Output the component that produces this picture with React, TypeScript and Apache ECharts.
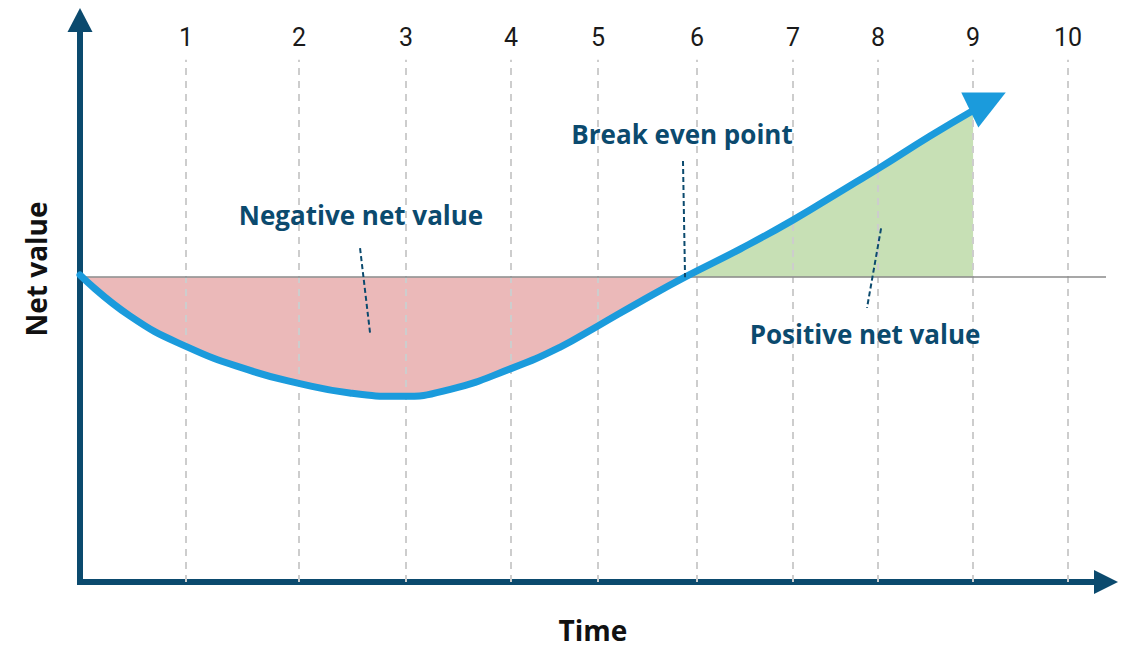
import React, { useEffect, useRef } from "react";
import * as echarts from "echarts";

// ---- data ----
const tickLabels = ["1", "2", "3", "4", "5", "6", "7", "8", "9", "10"];
const tickPositions = [1.085, 2.241, 3.336, 4.411, 5.301, 6.315, 7.297, 8.167, 9.139, 10.112];

// net value curve (time, value)
const curveTime = [0, 0.51, 1.09, 1.74, 2.25, 2.76, 3.28, 3.79, 4.41, 4.91, 5.3, 5.73, 6.19, 6.76, 7.3, 7.88, 8.17, 8.7, 9.14];
const curveValue = [0.07, -1.27, -2.28, -3.06, -3.49, -3.8, -3.91, -3.68, -3.0, -2.3, -1.6, -0.81, 0, 0.93, 1.88, 3.0, 3.56, 4.63, 5.47];
const breakEvenTime = 6.19;

const arrowHead = [9.29, 5.77];
const annotationNames = ["Negative net value", "Break even point", "Positive net value"];
const annotationPos = [
  [2.876, 2.05],
  [6.161, 4.69],
  [8.034, -1.86],
];
const leaderFrom = [
  [2.866, 0.95],
  [6.171, 3.81],
  [8.198, 1.6],
];
const leaderTo = [
  [2.968, -1.82],
  [6.192, 0],
  [8.054, -1.01],
];

const X_MIN = 0;
const X_MAX = 10.5;
const Y_MIN = -10;
const Y_MAX = 8.436;
const GRID_TOP_VALUE = 7.13;

const DARK = "#0b4a6e";
const BLUE = "#1b9bdc";

export default function App() {
  const ref = useRef<HTMLDivElement>(null);

  useEffect(() => {
    if (!ref.current) return;
    const chart = echarts.init(ref.current, undefined, { renderer: "svg" });

    const curve = curveTime.map((t, i) => [t, curveValue[i]]);
    const neg = curve.filter((p) => p[0] <= breakEvenTime);
    const pos = curve.filter((p) => p[0] >= breakEvenTime);

    const gridLines = tickPositions.map((x, i) => [
      { coord: [x, Y_MIN], name: tickLabels[i] },
      { coord: [x, GRID_TOP_VALUE] },
    ]);

    const axisCommon = {
      axisTick: { show: false },
      axisLabel: { show: false },
      splitLine: { show: false },
    };

    chart.setOption({
      animation: false,
      grid: { left: 80, right: 21, top: 20, bottom: 63, containLabel: false },
      xAxis: {
        type: "value",
        min: X_MIN,
        max: X_MAX,
        name: "Time",
        nameLocation: "middle",
        nameGap: 34,
        nameTextStyle: { fontFamily: "Open Sans", fontWeight: "bold", fontSize: 28, color: "#111" },
        axisLine: {
          show: true,
          onZero: false,
          symbol: ["none", "triangle"],
          symbolSize: [24, 24],
          lineStyle: { color: DARK, width: 6, cap: "square" },
        },
        ...axisCommon,
      },
      yAxis: {
        type: "value",
        min: Y_MIN,
        max: Y_MAX,
        name: "Net value",
        nameLocation: "middle",
        nameRotate: 90,
        nameGap: 30,
        nameTextStyle: {
          fontFamily: "Open Sans",
          fontWeight: "bold",
          fontSize: 28,
          color: "#111",
          padding: [0, 0, 0, 64],
        },
        axisLine: {
          show: true,
          onZero: false,
          symbol: ["none", "triangle"],
          symbolSize: [25, 24],
          lineStyle: { color: DARK, width: 6, cap: "square" },
        },
        ...axisCommon,
      },
      series: [
        {
          type: "line",
          name: "negative",
          data: neg,
          smooth: 0.5,
          showSymbol: false,
          silent: true,
          z: 1,
          lineStyle: { width: 0 },
          areaStyle: { color: "#ebb9b9", opacity: 1 },
        },
        {
          type: "line",
          name: "positive",
          data: pos,
          smooth: 0.5,
          showSymbol: false,
          silent: true,
          z: 1,
          lineStyle: { width: 0 },
          areaStyle: { color: "#c7e0b5", opacity: 1 },
        },
        {
          type: "line",
          name: "grid",
          data: [],
          silent: true,
          markLine: {
            silent: true,
            z: 2,
            symbol: ["none", "none"],
            lineStyle: { color: "#cdcdcd", width: 2, type: [7, 6] },
            label: {
              show: true,
              position: "end",
              distance: 10,
              formatter: "{b}",
              fontFamily: "Roboto",
              fontSize: 25,
              color: "#1a1a1a",
            },
            data: gridLines,
          },
        },
        {
          type: "line",
          name: "baseline",
          data: [],
          silent: true,
          markLine: {
            silent: true,
            z: 3,
            symbol: ["none", "none"],
            label: { show: false },
            lineStyle: { color: "#8a8a8a", width: 1.5, type: "solid" },
            data: [[{ coord: [0.05, 0] }, { coord: [X_MAX, 0] }]],
          },
        },
        {
          type: "line",
          name: "Net value",
          data: curve,
          smooth: 0.5,
          showSymbol: false,
          silent: true,
          z: 4,
          lineStyle: { color: BLUE, width: 7, cap: "round" },
          markPoint: {
            silent: true,
            z: 5,
            symbol: "triangle",
            symbolSize: [39, 40],
            symbolRotate: -64,
            itemStyle: { color: BLUE },
            label: { show: false },
            data: [{ coord: arrowHead }],
          },
        },
        {
          type: "line",
          name: "annotations",
          data: [],
          silent: true,
          markLine: {
            silent: true,
            z: 6,
            symbol: ["none", "none"],
            label: { show: false },
            lineStyle: { color: DARK, width: 2, type: [5, 3] },
            data: leaderFrom.map((f, i) => [{ coord: f }, { coord: leaderTo[i] }]),
          },
          markPoint: {
            silent: true,
            z: 6,
            symbol: "circle",
            symbolSize: 0,
            label: {
              show: true,
              position: "inside",
              formatter: "{b}",
              fontFamily: "Open Sans",
              fontWeight: "bold",
              fontSize: 26,
              color: DARK,
            },
            data: annotationNames.map((n, i) => ({ name: n, coord: annotationPos[i] })),
          },
        },
      ],
    });

    return () => chart.dispose();
  }, []);

  return (
    <div
      ref={ref}
      style={{ position: "fixed", left: 0, top: 0, width: 1127, height: 649, background: "#fff" }}
    />
  );
}
